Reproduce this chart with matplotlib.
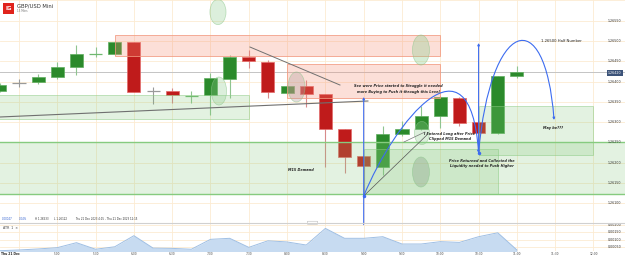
import numpy as np
import matplotlib
matplotlib.use("Agg")
import matplotlib.pyplot as plt
import matplotlib.transforms as mtransforms
from matplotlib.patches import Rectangle, Ellipse, FancyArrowPatch, FancyBboxPatch
from matplotlib.path import Path
from matplotlib.lines import Line2D

# 15 min bars, 4:15 -> 11:00 (bar index 0..27)
opens = [1.26377, 1.26397, 1.26399, 1.26411, 1.26436, 1.26468, 1.26468, 1.26498,
         1.26377, 1.26377, 1.26364, 1.26367, 1.26406, 1.26461, 1.26448, 1.26372,
         1.26389, 1.26370, 1.26283, 1.26217, 1.26190, 1.26271, 1.26283, 1.26315,
         1.26360, 1.26300, 1.26273, 1.26414]
highs = [1.26397, 1.26406, 1.26419, 1.26448, 1.26490, 1.26485, 1.26500, 1.26498,
         1.26387, 1.26384, 1.26377, 1.26421, 1.26466, 1.26478, 1.26453, 1.26392,
         1.26404, 1.26370, 1.26283, 1.26217, 1.26291, 1.26303, 1.26340, 1.26365,
         1.26362, 1.26302, 1.26414, 1.26438]
lows = [1.26374, 1.26387, 1.26394, 1.26406, 1.26416, 1.26461, 1.26466, 1.26374,
        1.26345, 1.26347, 1.26347, 1.26318, 1.26360, 1.26433, 1.26360, 1.26370,
        1.26337, 1.26190, 1.26175, 1.26118, 1.26170, 1.26266, 1.26280, 1.26286,
        1.26290, 1.26224, 1.26271, 1.26410]
closes = [1.26392, 1.26397, 1.26411, 1.26436, 1.26468, 1.26469, 1.26498, 1.26374,
          1.26377, 1.26367, 1.26366, 1.26409, 1.26461, 1.26451, 1.26374, 1.26389,
          1.26370, 1.26283, 1.26214, 1.26192, 1.26271, 1.26283, 1.26315, 1.26362,
          1.26298, 1.26273, 1.26414, 1.26424]
atr = [0.00024, 0.00029, 0.00036, 0.00045, 0.00079, 0.00034, 0.00051, 0.00127,
       0.00042, 0.00040, 0.00034, 0.00102, 0.00109, 0.00047, 0.00092, 0.00084,
       0.00063, 0.00177, 0.00109, 0.00109, 0.00120, 0.00070, 0.00070, 0.00086,
       0.00081, 0.00120, 0.00147, 0.00029]

time_ticks = [1, 3, 5, 7, 9, 11, 13, 15, 17, 19, 21, 23, 25, 27, 29, 31]
time_labels = ["Thu 21 Dec", "5:00", "5:30", "6:00", "6:30", "7:00", "7:30", "8:00",
               "8:30", "9:00", "9:30", "10:00", "10:30", "11:00", "11:30", "12:00"]
price_ticks = [1.26100, 1.26150, 1.26200, 1.26250, 1.26300, 1.26350, 1.26400,
               1.26450, 1.26500, 1.26550]
atr_ticks = [0.00050, 0.00100, 0.00150, 0.00200]

# drawn zones: (bar start, bar end, price low, price high)
supply_zones = [(6, 23, 1.264631, 1.265148), (15, 23, 1.263596, 1.264433)]
demand_zones = [(-1, 13, 1.263079, 1.263670), (25, 31, 1.262192, 1.263399),
                (19, 26, 1.261231, 1.262340)]
demand_band = (1.261231, 1.262512)

GREEN = "#2b8a2b"
RED = "#bf1b1b"
GRID = "#fcebd2"
BLUE = "#3d6cf0"
W, H = 625, 257

fig = plt.figure(figsize=(W / 100, H / 100), dpi=100)
ax = fig.add_axes([0, 1 - 223 / H, 1, 223 / H])
ax2 = fig.add_axes([0, 1 - 251 / H, 1, 28 / H])
for a in (ax, ax2):
    a.set_axis_off()
    a.set_xlim(0.008, 32.645)
ax.set_ylim(1.260517, 1.266010)
ax2.set_ylim(0.00022, 0.00214)

# grid
for t in time_ticks:
    ax.axvline(t, color=GRID, lw=0.6, zorder=0)
    ax2.axvline(t, color=GRID, lw=0.6, zorder=0)
for p in price_ticks + [1.26600]:
    ax.axhline(p, color=GRID, lw=0.6, zorder=0)
for v in atr_ticks:
    ax2.axhline(v, color=GRID, lw=0.6, zorder=0)

# candles
bars = np.arange(len(opens))
for b, o, h, l, c in zip(bars, opens, highs, lows, closes):
    if c > o:
        col, wick, edge = GREEN, "#8fc48f", "#5fae5f"
    elif c < o:
        col, wick, edge = RED, "#d88a8a", "#e36a6a"
    else:
        col, wick, edge = "#8a8a8a", "#9a9a9a", "#8a8a8a"
    ax.vlines(b, l, h, color=wick, lw=0.8, zorder=2)
    if abs(c - o) < 0.00003:
        ax.hlines((o + c) / 2, b - 0.34, b + 0.34, color=wick if c == o else "#6fb86f", lw=0.9, zorder=2)
    else:
        ax.bar(b, c - o, bottom=o, width=0.68, color=col, edgecolor=edge, lw=0.5, zorder=2)

# last price line
ax.axhline(closes[-1], color="#c4c4c4", lw=0.7, zorder=1)

# zones
for b0, b1, p0, p1 in supply_zones:
    ax.add_patch(Rectangle((b0, p0), b1 - b0, p1 - p0, fc=(0.97, 0.55, 0.45, 0.28),
                           ec=(0.95, 0.6, 0.5, 0.8), lw=0.7, zorder=3))
for b0, b1, p0, p1 in demand_zones:
    ax.add_patch(Rectangle((b0, p0), b1 - b0, p1 - p0, fc=(0.5, 0.78, 0.47, 0.22),
                           ec=(0.55, 0.8, 0.52, 0.6), lw=0.6, zorder=3))
ax.add_patch(Rectangle((-1, demand_band[0]), 40, demand_band[1] - demand_band[0],
                       fc=(0.5, 0.78, 0.47, 0.22), ec="none", zorder=3))
for p in demand_band:
    ax.axhline(p, color="#86cb7f", lw=1.0, zorder=3)

# ellipses
ells = [(11.39, 1.265714, 0.84, 0.00062, (0.55, 0.8, 0.55, 0.3)),
        (11.44, 1.263768, 0.80, 0.00069, (0.55, 0.8, 0.55, 0.3)),
        (15.49, 1.263867, 0.89, 0.00074, (0.7, 0.62, 0.62, 0.35)),
        (21.99, 1.264778, 0.89, 0.00074, (0.55, 0.8, 0.55, 0.35)),
        (22.04, 1.262734, 0.78, 0.00057, (0.55, 0.8, 0.55, 0.3)),
        (21.99, 1.261773, 0.89, 0.00074, (0.55, 0.65, 0.55, 0.4))]
for x, y, w, h, fc in ells:
    ax.add_patch(Ellipse((x, y), w, h, fc=fc, ec=(0.55, 0.78, 0.55, 0.6), lw=0.5, zorder=4))

# gray trend lines
ax.plot([0, 19.22], [1.263128, 1.263522], color="#707070", lw=0.8, zorder=5)
ax.plot([13.06, 17.76], [1.264852, 1.263916], color="#707070", lw=0.7, zorder=5)
ax.plot([19, 22.3], [1.261182, 1.262685], color="#555555", lw=0.5, zorder=5)
ax.plot([21.1, 22.2], [1.262512, 1.262759], color="#777777", lw=0.5, zorder=5)

# blue drawings
ax.add_patch(FancyArrowPatch((19, 1.260468), (19, 1.263621), arrowstyle="-|>", mutation_scale=3,
                             color=BLUE, lw=0.8, zorder=6, clip_on=False, shrinkA=0, shrinkB=0))
ax.add_patch(FancyArrowPatch((25, 1.262241), (25, 1.264951), arrowstyle="-|>", mutation_scale=3,
                             color=BLUE, lw=0.8, zorder=6, shrinkA=0, shrinkB=0))
arc1 = Path([(19, 1.261182), (20.63, 1.263054), (24.55, 1.265320), (25, 1.262241)],
            [Path.MOVETO, Path.CURVE4, Path.CURVE4, Path.CURVE4])
arc2 = Path([(25, 1.262241), (25.6, 1.265517), (28.47, 1.266010), (28.94, 1.263054)],
            [Path.MOVETO, Path.CURVE4, Path.CURVE4, Path.CURVE4])
for pth in (arc1, arc2):
    ax.add_patch(FancyArrowPatch(path=pth, arrowstyle="-|>", mutation_scale=3,
                                 color=BLUE, lw=0.8, zorder=6))
ax.plot([19, 25], [1.261182, 1.262241], "o", ms=1.5, color=BLUE, zorder=7)

# annotations
txt = dict(fontsize=2.5, color="#222222", fontweight="bold", fontstyle="italic",
           ha="center", va="center", zorder=8)
ax.text(20.79, 1.263818, "See were Price started to Struggle it needed\nmore Buying to Push it through this Level",
        linespacing=1.5, **txt)
ax.text(15.73, 1.261823, "M15 Demand", **txt)
ax.text(23.5, 1.262648, "I Entered Long after Price\nClipped M15 Demand", linespacing=1.4, **txt)
ax.text(25.18, 1.261983, "Price Returned and Collected the\nLiquidity needed to Push Higher", linespacing=1.4, **txt)
ax.text(28.88, 1.262857, "May be???", **txt)
ax.text(29.3, 1.26500, "1.26500 Half Number", fontsize=2.7, color="#222222", ha="center", va="center", zorder=8)

# right axis labels
trans = mtransforms.blended_transform_factory(ax.transAxes, ax.transData)
for p in price_ticks:
    ax.text(608 / W, p, f"{p:.5f}", transform=trans, fontsize=2.3, color="#333333", va="center", ha="left")
ax.text(615 / W, closes[-1] - 0.00003, "1.26420", transform=trans, fontsize=2.3, color="white",
        va="center", ha="center", zorder=9,
        bbox=dict(boxstyle="square,pad=0.35", fc="#3c5379", ec="none"))
trans2 = mtransforms.blended_transform_factory(ax2.transAxes, ax2.transData)
for v in atr_ticks:
    ax2.text(608 / W, v, f"{v:.5f}", transform=trans2, fontsize=2.3, color="#333333", va="center", ha="left")

# ATR panel
ax2.fill_between(bars, atr, 0, color="#c7dbf1", lw=0, zorder=1)
ax2.plot(bars, atr, color="#9fbfe4", lw=0.7, zorder=2)
ax2.text(3 / W, 1 - 5 / 28, "ATR  1  \u00d7", transform=ax2.transAxes, fontsize=2.3, color="#444444", va="center")

# time labels
tt = mtransforms.blended_transform_factory(ax2.transData, fig.transFigure)
for t, lab in zip(time_ticks, time_labels):
    if t == 1:
        fig.text(1 / W, 1 - 254 / H, lab, fontsize=2.2, color="#222222", fontweight="bold", va="center")
    else:
        ax2.text(t, 1 - 254 / H, lab, transform=tt, fontsize=2.1, color="#444444", ha="center", va="center")

# separator between panes
fig.add_artist(Line2D([0, 1], [1 - 222.5 / H] * 2, color="#d0d0d0", lw=0.8))
fig.add_artist(FancyBboxPatch((308 / W, 1 - 224 / H), 9 / W, 2.5 / H, boxstyle="round,pad=0.001",
                              fc="white", ec="#bbbbbb", lw=0.4, transform=fig.transFigure))

# info line
info = [(2, "0.00047", "#2f5fd0"), (19, "0.04%", "#2f5fd0"), (35, "H 1.26533", "#333333"),
        (54, "L 1.26122", "#333333"), (75, "Thu 21 Dec 2023 4:15 - Thu 21 Dec 2023 12:15", "#333333")]
for x, s, c in info:
    fig.text(x / W, 1 - 219 / H, s, fontsize=1.9, color=c, va="center")

# header
fig.add_artist(Rectangle((3 / W, 1 - 14 / H), 11 / W, 11 / H, fc="#e0231c", ec="none",
                         transform=fig.transFigure))
fig.text(8.5 / W, 1 - 8.5 / H, "IG", fontsize=4, color="white", fontweight="bold", ha="center", va="center")
fig.text(17 / W, 1 - 5.5 / H, "GBP/USD Mini", fontsize=3.8, color="#333333", va="center")
fig.text(17 / W, 1 - 11.5 / H, "15 Mins", fontsize=2.0, color="#777777", va="center")

fig.savefig("out.png", dpi=100)
